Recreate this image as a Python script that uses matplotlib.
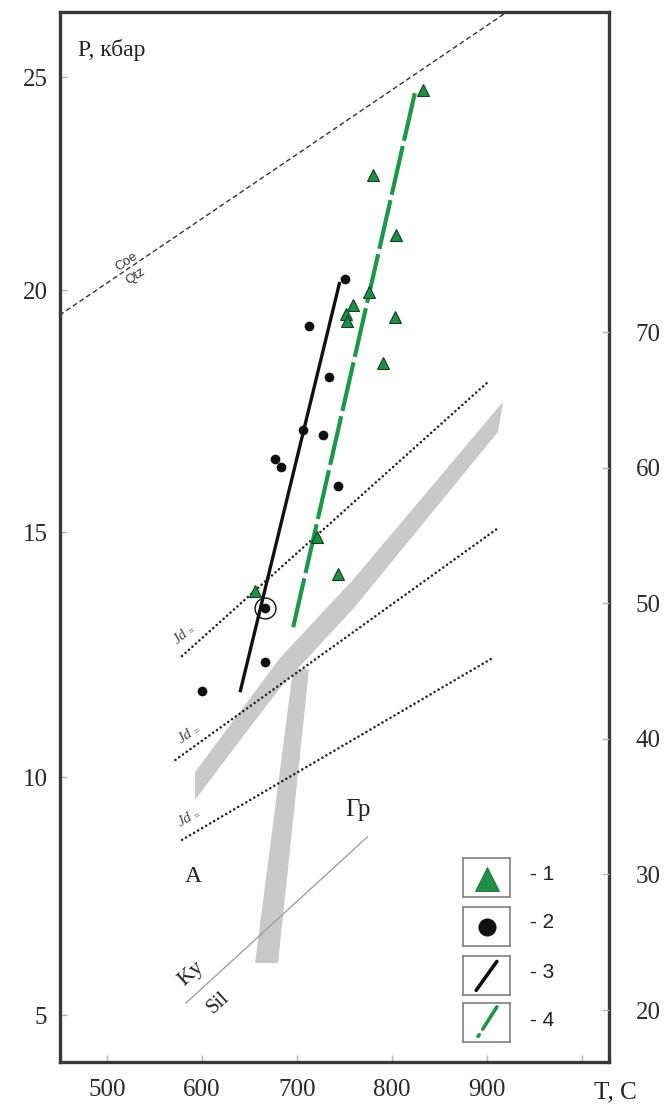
import numpy as np
import matplotlib
matplotlib.use("Agg")
import matplotlib.pyplot as plt
from matplotlib.patches import Polygon

# ---------------- data ----------------
# 1 - green triangles (T, C ; P, kbar)
tri_T = [833, 780, 804, 776, 759, 752, 753, 803, 790, 721, 743, 656]
tri_P = [24.7, 22.7, 21.3, 19.95, 19.7, 19.5, 19.35, 19.45, 18.5, 14.9, 14.15, 13.8]
# 2 - black dots
dot_T = [750, 713, 734, 706, 727, 677, 683, 743, 666, 666, 600]
dot_P = [20.25, 19.25, 18.2, 17.1, 17.0, 16.5, 16.35, 15.95, 13.45, 12.35, 11.75]
# circled dot
ring_T = [666]
ring_P = [13.45]
# 3 - black trend line
trend2_T = [640, 745]
trend2_P = [11.73, 20.19]
# 4 - green dashed trend line
trend1_T = [696, 824]
trend1_P = [13.06, 24.62]
# Coe / Qtz boundary
coe_T = [450, 922.5]
coe_P = [19.48, 26.55]
# Jd isopleths (dotted)
jd_T = [[579, 901], [572, 913], [579, 906]]
jd_P = [[12.47, 18.1], [10.35, 15.1], [8.68, 12.43]]
# Ky / Sil boundary
kysil_T = [583, 774]
kysil_P = [5.25, 8.74]
# grey bands (polygon vertices)
band1_T = [592.6, 682.1, 760.0, 916.8, 911.6, 760.0, 682.1, 592.6]
band1_P = [10.1, 12.43, 14.05, 17.69, 17.07, 13.45, 11.82, 9.52]
band2_T = [695.8, 712.6, 680.0, 655.8]
band2_P = [12.2, 12.2, 6.09, 6.09]

x_ticks = [500, 600, 700, 800, 900, 1000]
x_labels = ["500", "600", "700", "800", "900", ""]
y_ticks = [5, 10, 15, 20, 25]
y_labels = ["5", "10", "15", "20", "25"]
r_ticks = [20, 30, 40, 50, 60, 70]
r_labels = ["20", "30", "40", "50", "60", "70"]
legend_labels = ["- 1", "- 2", "- 3", "- 4"]

# scale calibration of the pressure axis of the scanned figure
cal_P = np.array([-10.0, 5, 10, 15, 20, 25, 40])
cal_Y = np.array([1729.0, 1015, 777, 532, 290, 77, -562])

def fwd(p):
    return -np.interp(p, cal_P, cal_Y)

def inv(v):
    return np.interp(-np.asarray(v), cal_Y[::-1], cal_P[::-1])

SERIF = ["Liberation Serif", "DejaVu Serif"]
SANS = ["Liberation Sans", "DejaVu Sans"]
plt.rcParams["font.family"] = SERIF
plt.rcParams["mathtext.fontset"] = "custom"
plt.rcParams["mathtext.it"] = "Liberation Serif:italic"
plt.rcParams["mathtext.rm"] = "Liberation Serif"

W, H = 672, 1106
fig = plt.figure(figsize=(W / 100, H / 100), dpi=100)
fig.patch.set_facecolor("white")

def fx(px):
    return px / W

def fy(py):
    return 1 - py / H

ax = fig.add_axes([fx(60), fy(1062), (609 - 60) / W, (1062 - 12) / H])
ax.set_yscale("function", functions=(fwd, inv))
ax.set_xlim(450.5, 1028.4)
ax.set_ylim(4.013, 26.526)

GREEN = "#1a9a45"

# grey bands
ax.add_patch(Polygon(np.column_stack([band1_T, band1_P]), closed=True,
                     facecolor="#c9c9c9", edgecolor="none", zorder=1))
ax.add_patch(Polygon(np.column_stack([band2_T, band2_P]), closed=True,
                     facecolor="#c9c9c9", edgecolor="none", zorder=1))

# Ky/Sil
ax.plot(kysil_T, kysil_P, color="#a0a0a0", lw=1.0, zorder=2)

# Jd isopleths
for tt, pp in zip(jd_T, jd_P):
    ax.plot(tt, pp, color="#222222", lw=1.9, linestyle=(0, (0.01, 1.75)),
            dash_capstyle="round", zorder=3)

# Coe/Qtz
ax.plot(coe_T, coe_P, color="#333333", lw=1.0, linestyle=(0, (3.6, 2.2)), zorder=3)

# trend lines
ax.plot(trend2_T, trend2_P, color="#111111", lw=2.4, solid_capstyle="butt", zorder=4)
ax.plot(trend1_T, trend1_P, color=GREEN, lw=3.0, linestyle=(0, (12, 1.3)),
        dash_capstyle="butt", zorder=4)

# points
ax.plot(dot_T, dot_P, "o", color="#111111", ms=7, mew=0, zorder=5)
ax.plot(ring_T, ring_P, "o", mfc="none", mec="#111111", ms=15, mew=1.0, zorder=5)
ax.plot(tri_T, tri_P, "^", mfc="#1f8f47", mec="#123d22", mew=0.8, ms=9, zorder=6)

# labels inside the plot
ax.text(521, 20.66, "Coe", rotation=34, fontsize=9.5, family=SANS, color="#333",
        ha="center", va="center", rotation_mode="anchor")
ax.text(530, 20.33, "Qtz", rotation=34, fontsize=9.5, family=SANS, color="#333",
        ha="center", va="center", rotation_mode="anchor")
for (t, p, r) in [(580, 12.94, 40), (585, 10.92, 35), (585, 9.17, 30)]:
    ax.text(t, p, r"$Jd_{\,=}$", rotation=r, fontsize=11, color="#444",
            ha="center", va="center", rotation_mode="anchor")
ax.text(590.5, 7.9, "A", fontsize=17, color="#222", ha="center", va="center")
ax.text(764, 9.31, "Гр", fontsize=18, color="#222", ha="center", va="center")
ax.text(589, 5.87, "Ky", fontsize=16, rotation=42, color="#222", ha="center",
        va="center", rotation_mode="anchor")
ax.text(617, 5.25, "Sil", fontsize=15, rotation=42, color="#222", ha="center",
        va="center", rotation_mode="anchor")

# axes styling
for s in ax.spines.values():
    s.set_linewidth(2.4)
    s.set_color("#383838")
ax.set_xticks(x_ticks)
ax.set_xticklabels(x_labels)
ax.set_yticks(y_ticks)
ax.set_yticklabels(y_labels)
ax.minorticks_off()
ax.tick_params(axis="both", direction="in", length=5, width=1, color="#b5b5b5",
               labelsize=18, labelcolor="#2a2a2a")
ax.tick_params(axis="x", pad=12)
ax.tick_params(axis="y", pad=9)

ax2 = ax.twinx()
ax2.set_ylim(16.17, 93.6)
ax2.set_yticks(r_ticks)
ax2.set_yticklabels(r_labels)
ax2.minorticks_off()
ax2.tick_params(axis="y", direction="in", length=5, width=1, color="#b5b5b5",
                labelsize=18, labelcolor="#2a2a2a", pad=19)
for s in ax2.spines.values():
    s.set_visible(False)

fig.text(fx(78), fy(50), "P, кбар", fontsize=17, color="#222", ha="left", va="center")
fig.text(fx(615), fy(1092), "T, C", fontsize=18, color="#222", ha="center", va="center")

# legend: each entry in its own box
box_tops = [858, 907, 956, 1003]
label_y = [875, 923, 972, 1020]
for i, (bt, ly, lab) in enumerate(zip(box_tops, label_y, legend_labels)):
    lax = fig.add_axes([fx(463), fy(bt + 39), 47 / W, 39 / H])
    lax.set_xlim(0, 1)
    lax.set_ylim(0, 1)
    lax.set_xticks([])
    lax.set_yticks([])
    for s in lax.spines.values():
        s.set_linewidth(1.2)
        s.set_color("#808080")
    if i == 0:
        lax.plot([0.5], [0.47], "^", mfc="#1f8f47", mec="#1a6a35", mew=0.6, ms=17)
    elif i == 1:
        lax.plot([0.5], [0.5], "o", color="#111111", ms=13, mew=0)
    elif i == 2:
        lax.plot([0.28, 0.72], [0.12, 0.86], color="#111111", lw=2.6,
                 solid_capstyle="round")
    else:
        lax.plot([0.32, 0.72], [0.14, 0.9], color=GREEN, lw=2.6,
                 linestyle=(0, (0.6, 1.8, 9, 2)), dash_capstyle="round")
    fig.text(fx(530), fy(ly), lab, fontsize=15, family=SANS, color="#222",
             ha="left", va="center")

fig.savefig("out.png", dpi=100, facecolor="white")
